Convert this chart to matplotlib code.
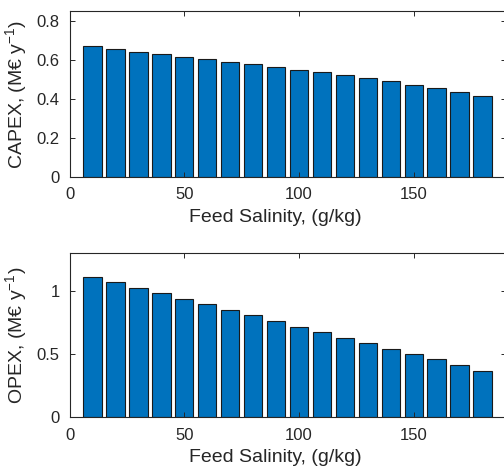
import matplotlib
matplotlib.use('Agg')
import matplotlib.pyplot as plt

plt.rcParams['font.family'] = ['Liberation Sans', 'DejaVu Sans']
plt.rcParams['mathtext.fontset'] = 'custom'
plt.rcParams['mathtext.rm'] = 'Liberation Sans'
plt.rcParams['mathtext.it'] = 'Liberation Sans:italic'

# feed salinity (g/kg) and cost results
salinity = [10, 20, 30, 40, 50, 60, 70, 80, 90, 100, 110, 120, 130, 140, 150, 160, 170, 180]
capex = [0.670, 0.655, 0.641, 0.629, 0.615, 0.603, 0.591, 0.578, 0.564,
         0.550, 0.536, 0.521, 0.506, 0.490, 0.471, 0.454, 0.437, 0.416]
opex = [1.108, 1.066, 1.021, 0.979, 0.934, 0.892, 0.847, 0.805, 0.760,
        0.717, 0.673, 0.630, 0.586, 0.543, 0.499, 0.459, 0.412, 0.369]

bar_color = '#0072BD'
ax_color = '#262626'

fig = plt.figure(figsize=(5.04, 4.70), dpi=100)
ax1 = fig.add_axes([0.138, 0.624, 0.865, 0.352])
ax2 = fig.add_axes([0.138, 0.112, 0.865, 0.350])


def style(ax, data, ylabel, ylim, yticks):
    ax.bar(salinity, data, width=8, color=bar_color, edgecolor='#1a1a1a', linewidth=0.8)
    ax.set_xlim(0, 190)
    ax.set_ylim(*ylim)
    ax.set_xticks([0, 50, 100, 150])
    ax.set_yticks(yticks)
    ax.set_yticklabels([('%g' % t) for t in yticks])
    ax.tick_params(direction='in', length=3.6, width=0.7, colors=ax_color,
                   labelsize=12, top=True, right=True, pad=7)
    ax.tick_params(axis='x', pad=7.5)
    for s in ax.spines.values():
        s.set_color(ax_color)
        s.set_linewidth(0.8)
    ax.set_xlabel('Feed Salinity, (g/kg)', fontsize=14, color=ax_color)
    ax.xaxis.set_label_coords(0.473, -0.195)
    ax.set_ylabel(ylabel, fontsize=14, color=ax_color)
    ax.yaxis.set_label_coords(-0.094, 0.5)


style(ax1, capex, 'CAPEX, (M€ y$^{-1}$)', (0, 0.85), [0, 0.2, 0.4, 0.6, 0.8])
style(ax2, opex, 'OPEX, (M€ y$^{-1}$)', (0, 1.3), [0, 0.5, 1])

fig.savefig('out.png', dpi=100)
